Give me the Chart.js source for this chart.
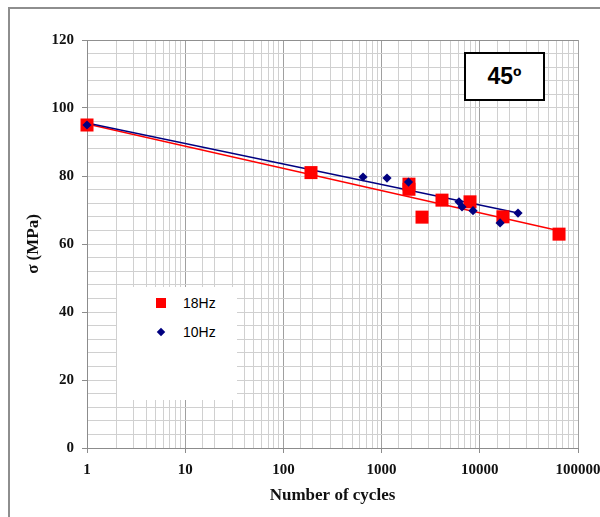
<!DOCTYPE html>
<html>
<head>
<meta charset="utf-8">
<script src="https://cdn.jsdelivr.net/npm/chart.js@4.4.0/dist/chart.umd.min.js"></script>
<style>
html,body{margin:0;padding:0;background:#fff;overflow:hidden;width:600px;height:517px;}
#wrap{position:relative;width:600px;height:517px;overflow:hidden;background:#fff;}
#frame{position:absolute;left:8px;top:7px;width:640px;height:560px;border-left:2px solid #8e8e8e;border-top:2px solid #8e8e8e;box-sizing:border-box;}
#c{position:absolute;left:0;top:0;}
#legend{position:absolute;left:117px;top:287px;width:120px;height:113px;background:#fff;font-family:"Liberation Sans","DejaVu Sans",sans-serif;font-size:14px;color:#000;}
.li{position:absolute;left:0;height:16px;line-height:16px;width:120px;}
.mk{position:absolute;}
.sq{width:10px;height:10px;background:#ff0000;left:39px;top:3px;}
.dm{width:6px;height:6px;background:#000080;transform:rotate(45deg);left:41px;top:5px;}
.tx{position:absolute;left:66px;top:0;white-space:nowrap;}
#angle{position:absolute;left:464px;top:52px;width:81px;height:49px;box-sizing:border-box;border:2px solid #000;background:#fff;font-family:"Liberation Sans",Arial,sans-serif;font-weight:bold;font-size:23px;text-align:center;line-height:45px;color:#000;}
</style>
</head>
<body>
<div id="wrap">
<div id="frame"></div>
<canvas id="c" width="620" height="517" style="width:620px;height:517px;"></canvas>
<div id="legend">
  <div class="li" style="top:8px;"><span class="mk sq"></span><span class="tx">18Hz</span></div>
  <div class="li" style="top:37px;"><span class="mk dm"></span><span class="tx">10Hz</span></div>
</div>
<div id="angle">45º</div>
</div>
<script>
// ---- data ----
const cycles18 = [1, 191, 1900, 1900, 2580, 4120, 7950, 17200, 64100];
const stress18 = [95, 81, 77.6, 76.1, 67.9, 72.9, 72.4, 68.0, 62.9];

const cycles10 = [1, 647, 1135, 1880, 6140, 6590, 8530, 16100, 24500];
const stress10 = [95, 79.7, 79.4, 78.2, 72.4, 70.9, 69.8, 66.2, 69.1];

// logarithmic trend lines (end points)
const trend18X = [1, 64100];
const trend18Y = [95.3, 63.9];
const trend10X = [1, 24500];
const trend10Y = [95.6, 69.1];

const xTickLabels = ['1', '10', '100', '1000', '10000', '100000'];
const yTickLabels = ['0', '20', '40', '60', '80', '100', '120'];
const seriesNames = ['18Hz', '10Hz'];

const pts = (xs, ys) => xs.map((x, i) => ({x: x, y: ys[i]}));
const isDecade = v => v && Math.abs(Math.log10(v) - Math.round(Math.log10(v))) < 1e-9;

const serif = '"Liberation Serif","Times New Roman",serif';

new Chart(document.getElementById('c'), {
  type: 'scatter',
  data: {
    datasets: [
      {label: seriesNames[1], data: pts(cycles10, stress10), pointStyle: 'rectRot', radius: 4.6,
       backgroundColor: '#000080', borderColor: '#000080', borderWidth: 0, order: 0, clip: false},
      {label: seriesNames[0], data: pts(cycles18, stress18), pointStyle: 'rect', radius: 9.2,
       backgroundColor: '#ff0000', borderColor: '#ff0000', borderWidth: 0, order: 1, clip: false},
      {label: 'trend10', type: 'line', data: pts(trend10X, trend10Y), borderColor: '#000080', borderWidth: 1.4,
       pointRadius: 0, fill: false, order: 2},
      {label: 'trend18', type: 'line', data: pts(trend18X, trend18Y), borderColor: '#ff0000', borderWidth: 1.4,
       pointRadius: 0, fill: false, order: 3}
    ]
  },
  options: {
    responsive: false,
    animation: false,
    events: [],
    layout: {padding: {left: 20, top: 40, right: 42, bottom: 8}},
    plugins: {legend: {display: false}, tooltip: {enabled: false}},
    scales: {
      x: {
        type: 'logarithmic', min: 1, max: 100000,
        afterFit: s => { s.height = 61; },
        border: {color: '#8c8c8c', width: 1},
        grid: {
          color: c => isDecade(c.tick && c.tick.value) ? '#a0a0a0' : '#d0d0d0',
          tickColor: c => isDecade(c.tick && c.tick.value) ? '#8c8c8c' : 'rgba(0,0,0,0)',
          tickLength: 5
        },
        ticks: {
          autoSkip: false, maxRotation: 0, minRotation: 0, padding: 8, color: '#111',
          font: {family: serif, size: 15, weight: 'bold'},
          callback: v => isDecade(v) ? xTickLabels[Math.round(Math.log10(v))] : ''
        },
        title: {display: true, text: 'Number of cycles', color: '#111', font: {family: serif, size: 17, weight: 'bold'}, padding: {top: 0, bottom: 3}}
      },
      y: {
        min: 0, max: 120,
        afterFit: s => { s.width = 67; },
        border: {color: '#8c8c8c', width: 1},
        grid: {
          color: c => (c.tick && c.tick.value === 120) ? '#909090' : '#d0d0d0',
          tickColor: c => (c.tick && c.tick.value % 20 === 0) ? '#8c8c8c' : 'rgba(0,0,0,0)',
          tickLength: 5
        },
        ticks: {
          stepSize: 4, autoSkip: false, padding: 8, color: '#111',
          font: {family: serif, size: 15, weight: 'bold'},
          callback: v => (v % 20 === 0) ? yTickLabels[v / 20] : ''
        },
        title: {display: true, text: 'σ (MPa)', color: '#111', font: {family: serif, size: 17, weight: 'bold'}, padding: {top: 3, bottom: 0}}
      }
    }
  }
});
</script>
</body>
</html>
